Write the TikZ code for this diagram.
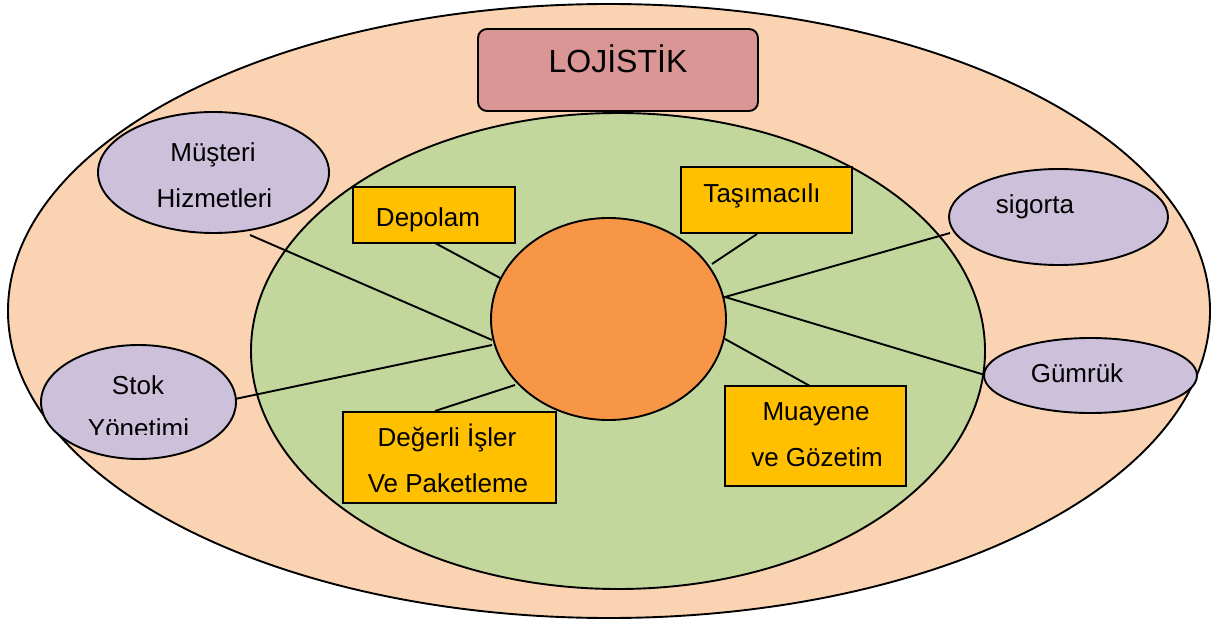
\documentclass[tikz,border=0pt]{standalone}
\usepackage{fontspec}
\setmainfont{Liberation Sans}
\definecolor{peach}{HTML}{FAD4B2}
\definecolor{leaf}{HTML}{C3D69B}
\definecolor{core}{HTML}{F79646}
\definecolor{lilac}{HTML}{CCC0DA}
\definecolor{gold}{HTML}{FFC000}
\definecolor{rose}{HTML}{D99694}
\tikzset{
  edge/.style={draw=black, line width=1.9pt},
  oval/.style={draw=black, line width=1.9pt, fill=lilac},
  ybox/.style={draw=black, line width=1.9pt, fill=gold},
  lbl/.style={anchor=base, inner sep=0pt, font=\fontsize{26}{30}\selectfont},
  conn/.style={line width=1.9pt, draw=black},
}
\begin{document}
\begin{tikzpicture}[x=1pt,y=-1pt]
\useasboundingbox (0,0) rectangle (1214,620);
% outer
\draw[edge, fill=peach] (609,311) ellipse [x radius=601, y radius=307];
% title box
\draw[edge, fill=rose, rounded corners=9pt] (478,29) rectangle (758,111);
\node[lbl, font=\fontsize{32}{36}\selectfont] (title) at (618,73) {LOJİSTİK};
% green
\draw[edge, fill=leaf] (618,351) ellipse [x radius=367, y radius=238];
% connector end points
\coordinate (mA) at (250,235); \coordinate (mB) at (492,340);
\coordinate (sA) at (235,399); \coordinate (sB) at (492,345);
\coordinate (dA) at (435,243); \coordinate (dB) at (502,279);
\coordinate (tA) at (757,234); \coordinate (tB) at (712,264);
\coordinate (gA) at (950,233); \coordinate (gB) at (725,297);
\coordinate (kA) at (985,375);
\coordinate (vA) at (435,411); \coordinate (vB) at (515,385);
\coordinate (uA) at (725,339); \coordinate (uB) at (810,386);
\draw[conn] (mA) -- (mB);
\draw[conn] (sA) -- (sB);
\draw[conn] (dA) -- (dB);
\draw[conn] (tA) -- (tB);
\draw[conn] (gA) -- (gB) -- (kA);
\draw[conn] (vA) -- (vB);
\draw[conn] (uA) -- (uB);
% center circle
\draw[edge, fill=core] (608.5,319) ellipse [x radius=117.5, y radius=101];
% outer ovals
\draw[oval] (213.5,172.5) ellipse [x radius=115.5, y radius=60.5];
\node[lbl] (mus1) at (213,162) {Müşteri};
\node[lbl] (mus2) at (214.5,208) {Hizmetleri};
\draw[oval] (138.5,402) ellipse [x radius=97.5, y radius=57];
\node[lbl] (stok1) at (138,394) {Stok};
\begin{scope}
\clip (40,400) rectangle (240,434);
\node[lbl] (stok2) at (138.5,437) {Yönetimi};
\end{scope}
\draw[oval] (1058.5,217) ellipse [x radius=109.5, y radius=48];
\node[lbl] (sig) at (1035,214) {sigorta};
\draw[oval] (1090.5,375.5) ellipse [x radius=106.5, y radius=37.5];
\node[lbl] (gum) at (1077,382) {Gümrük};
% yellow boxes
\draw[ybox] (353,187) rectangle (515,243);
\node[lbl] (dep) at (428,226) {Depolam};
\draw[ybox] (681,167) rectangle (852,233);
\node[lbl] (tas) at (762,203) {Taşımacılı};
\draw[ybox] (343,412) rectangle (556,503);
\node[lbl] (deg1) at (447,446) {Değerli İşler};
\node[lbl] (deg2) at (448,492) {Ve Paketleme};
\draw[ybox] (725,386) rectangle (906,486);
\node[lbl] (mua1) at (816,420) {Muayene};
\node[lbl] (mua2) at (817,466) {ve Gözetim};
\end{tikzpicture}
\end{document}
